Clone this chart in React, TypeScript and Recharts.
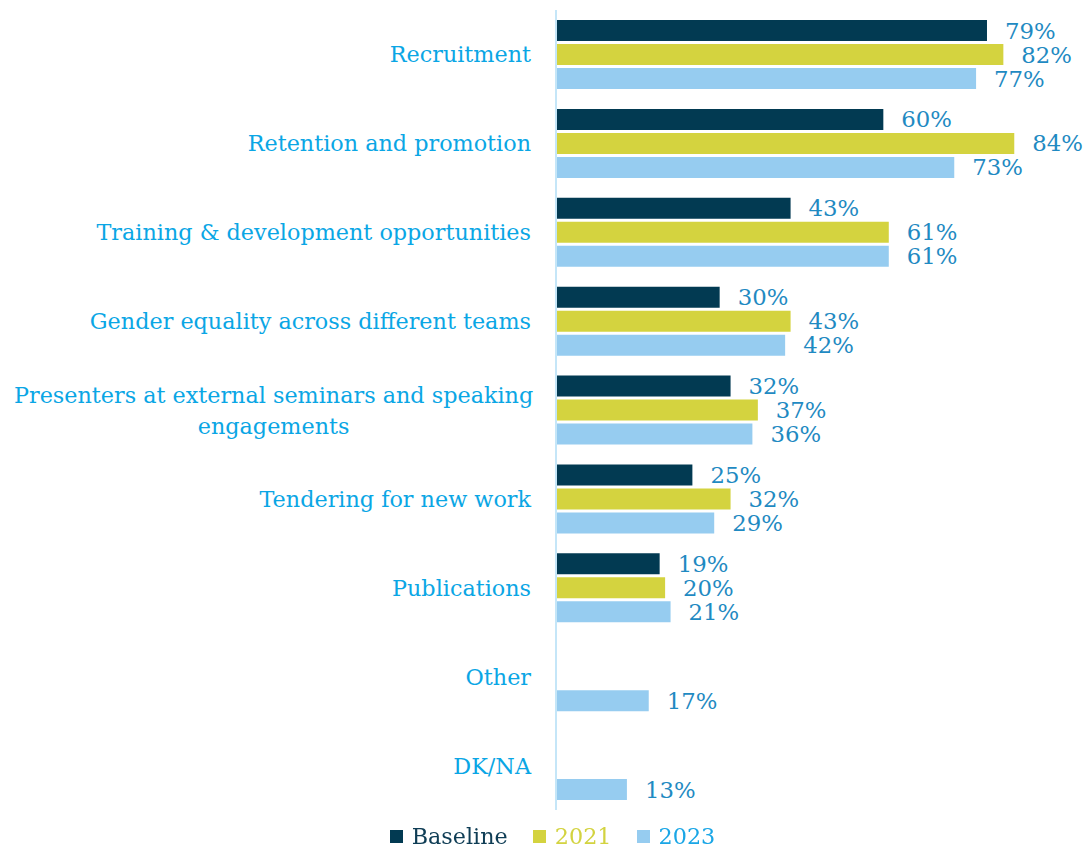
import React from 'react';
import { BarChart, Bar, XAxis, YAxis, Legend, LabelList } from 'recharts';

const categories = [
  'Recruitment',
  'Retention and promotion',
  'Training & development opportunities',
  'Gender equality across different teams',
  'Presenters at external seminars and speaking engagements',
  'Tendering for new work',
  'Publications',
  'Other',
  'DK/NA',
];
const baseline = [79, 60, 43, 30, 32, 25, 19, null, null];
const y2021 = [82, 84, 61, 43, 37, 32, 20, null, null];
const y2023 = [77, 73, 61, 42, 36, 29, 21, 17, 13];
const seriesNames = ['Baseline', '2021', '2023'];

const data = categories.map((c, i) => ({
  name: c,
  baseline: baseline[i],
  y2021: y2021[i],
  y2023: y2023[i],
}));

const FONT = '"DejaVu Serif", serif';
const BAR_COLORS = ['#023a52', '#d4d33f', '#96ccf0'];
const LEGEND_TEXT = ['#0f3d55', '#d3d340', '#1aa6e6'];
const CAT_COLOR = '#0aa6e5';
const VAL_COLOR = '#1f8ac2';

const wrap = (s: string, max: number) => {
  const words = s.split(' ');
  const lines: string[] = [];
  let cur = '';
  words.forEach((w) => {
    const t = cur ? cur + ' ' + w : w;
    if (t.length > max && cur) {
      lines.push(cur);
      cur = w;
    } else cur = t;
  });
  if (cur) lines.push(cur);
  return lines;
};

const CatTick = (props: any) => {
  const { x, y, payload } = props;
  const lines = wrap(String(payload.value), 45);
  const right = x - 17;
  if (lines.length === 1) {
    return (
      <text x={right} y={y} dy={8} textAnchor="end" fill={CAT_COLOR} fontSize={22.3} fontFamily={FONT}>
        {lines[0]}
      </text>
    );
  }
  const maxLen = Math.max(...lines.map((l) => l.length));
  const cx = right - (maxLen * 11.7) / 2;
  const lh = 31;
  const startY = y - ((lines.length - 1) * lh) / 2;
  return (
    <text textAnchor="middle" fill={CAT_COLOR} fontSize={22.3} fontFamily={FONT}>
      {lines.map((l, i) => (
        <tspan key={i} x={cx} y={startY + i * lh} dy={8}>
          {l}
        </tspan>
      ))}
    </text>
  );
};

const LegendContent = () => (
  <div
    style={{
      display: 'flex',
      justifyContent: 'center',
      alignItems: 'center',
      height: 24,
      fontFamily: FONT,
      fontSize: 22.3,
      paddingLeft: 50,
    }}
  >
    {seriesNames.map((n, i) => (
      <div key={n} style={{ display: 'flex', alignItems: 'center', marginRight: i < 2 ? 25 : 0 }}>
        <span style={{ display: 'inline-block', width: 13, height: 13, background: BAR_COLORS[i], marginRight: 9 }} />
        <span style={{ color: LEGEND_TEXT[i] }}>{n}</span>
      </div>
    ))}
  </div>
);

const fmt = (v: any) => (v == null ? '' : `${v}%`);

export default function App() {
  const keys = ['baseline', 'y2021', 'y2023'];
  return (
    <div style={{ position: 'fixed', top: 0, left: 0, background: '#fff' }}>
      <BarChart
        width={1089}
        height={848}
        data={data}
        layout="vertical"
        margin={{ top: 10, right: 42, bottom: 14, left: 8 }}
        barSize={21}
        barGap={3}
      >
        <XAxis type="number" domain={[0, 90]} hide />
        <YAxis
          type="category"
          dataKey="name"
          width={548}
          axisLine={{ stroke: '#c5e6f8', strokeWidth: 2 }}
          tickLine={false}
          tick={<CatTick />}
          interval={0}
        />
        <Legend verticalAlign="bottom" content={<LegendContent />} wrapperStyle={{ bottom: 0 }} />
        {keys.map((k, i) => (
          <Bar key={k} dataKey={k} name={seriesNames[i]} fill={BAR_COLORS[i]} isAnimationActive={false}>
            <LabelList
              dataKey={k}
              position="right"
              offset={18}
              formatter={fmt}
              fill={VAL_COLOR}
              fontSize={22.8}
              fontFamily={FONT}
            />
          </Bar>
        ))}
      </BarChart>
    </div>
  );
}
